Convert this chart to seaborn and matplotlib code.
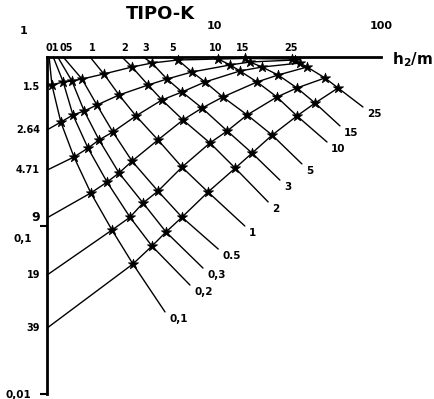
import matplotlib
matplotlib.use("Agg")
import matplotlib.pyplot as plt
import matplotlib.transforms as mtransforms
from matplotlib.ticker import FixedLocator, NullFormatter, NullLocator
import seaborn as sns
import pandas as pd

# curve families (log-log, h on top axis)
L_labels = ['1.5', '2.64', '4.71', '9', '19', '39']
L_start_v = [0.664, 0.369, 0.213, 0.111, 0.0508, 0.0246]

D_labels = ['0,1', '0,2', '0,3', '0.5', '1', '2', '3', '5', '10', '15', '25']
D_top_labels = ['01', '', '', '05', '1', '2', '3', '5', '10', '15', '25']
D_top_h = [1.03, 1.09, 1.16, 1.25, 1.81, 2.81, 3.76, 5.45, 9.86, 14.3, 27.7]
D_end_h = [5.09, 7.18, 8.59, 10.6, 15.3, 21.1, 24.8, 33.6, 47.5, 56.8, 78.0]
D_end_v = [0.0307, 0.0443, 0.0559, 0.0725, 0.0993, 0.138, 0.186, 0.232, 0.313, 0.390, 0.505]

# crossing points (rows = L curves, columns = D curves)
star_h = [
    [1.07, 1.25, 1.41, 1.62, 2.19, 3.23, 4.25, 6.09, 10.6, 15.3, 29.3],
    [1.21, 1.43, 1.67, 1.99, 2.70, 4.03, 5.23, 7.38, 12.5, 16.4, 30.5],
    [1.45, 1.76, 2.05, 2.48, 3.41, 4.88, 6.43, 8.84, 14.3, 19.4, 32.7],
    [1.83, 2.29, 2.70, 3.23, 4.62, 6.52, 8.48, 11.3, 18.1, 24.2, 36.1],
    [2.45, 3.14, 3.76, 4.62, 6.43, 9.46, 12.0, 15.8, 23.8, 31.4, 46.2],
    [3.27, 4.25, 5.16, 6.43, 9.21, 13.4, 16.9, 22.3, 31.4, 40.3, 55.3],
]
star_v = [
    [0.682, 0.711, 0.720, 0.740, 0.793, 0.872, 0.921, 0.960, 0.973, 0.980, 0.973],
    [0.411, 0.453, 0.478, 0.519, 0.595, 0.682, 0.740, 0.815, 0.897, 0.934, 0.960],
    [0.255, 0.288, 0.322, 0.359, 0.447, 0.556, 0.620, 0.711, 0.826, 0.872, 0.921],
    [0.156, 0.181, 0.205, 0.241, 0.322, 0.423, 0.498, 0.579, 0.711, 0.782, 0.872],
    [0.094, 0.112, 0.136, 0.160, 0.222, 0.309, 0.364, 0.453, 0.579, 0.655, 0.751],
    [0.0591, 0.0755, 0.0915, 0.112, 0.158, 0.219, 0.269, 0.344, 0.447, 0.533, 0.655],
]

# build long tables
rows = []
for i, lab in enumerate(L_labels):
    rows.append((1.0, L_start_v[i], 'L' + lab))
    for j in range(len(D_labels)):
        rows.append((star_h[i][j], star_v[i][j], 'L' + lab))
for j, lab in enumerate(D_labels):
    rows.append((D_top_h[j], 1.0, 'D' + lab))
    for i in range(len(L_labels)):
        rows.append((star_h[i][j], star_v[i][j], 'D' + lab))
    rows.append((D_end_h[j], D_end_v[j], 'D' + lab))
lines = pd.DataFrame(rows, columns=['h', 'v', 'curve'])

stars = pd.DataFrame({
    'h': [h for r in star_h for h in r],
    'v': [v for r in star_v for v in r],
})

sns.set_style("white")
plt.rcParams['font.family'] = ['DejaVu Sans']
plt.rcParams['font.weight'] = 'bold'
for key in ['text.color', 'xtick.color', 'ytick.color', 'axes.labelcolor']:
    plt.rcParams[key] = 'black'

fig = plt.figure(figsize=(4.34, 3.99), dpi=100)
ax = fig.add_axes([47 / 434, 1 - 394 / 399, 334 / 434, 337 / 399])
ax.set_xscale('log')
ax.set_yscale('log')

sns.lineplot(data=lines, x='h', y='v', units='curve', estimator=None, sort=False,
             color='black', lw=1.0, ax=ax, legend=False, clip_on=False)
sns.scatterplot(data=stars, x='h', y='v', marker='*', s=60, color='black',
                edgecolor='black', linewidth=0.5, ax=ax, zorder=3, clip_on=False)

ax.set_xlim(1, 100)
ax.set_ylim(0.01, 1)
ax.set_xlabel('')
ax.set_ylabel('')

for side in ['bottom', 'right']:
    ax.spines[side].set_visible(False)
for side in ['top', 'left']:
    ax.spines[side].set_linewidth(2.0)
    ax.spines[side].set_color('black')

# top axis: decades
ax.xaxis.tick_top()
ax.set_xticks([10, 100])
ax.set_xticklabels(['10', '100'])
ax.xaxis.set_minor_locator(FixedLocator([100]))
ax.xaxis.set_minor_formatter(NullFormatter())
ax.tick_params(axis='x', which='major', length=0, pad=19, labelsize=8,
               top=True, labeltop=True, bottom=False, labelbottom=False)
ax.tick_params(axis='x', which='minor', length=9, width=1.5, direction='inout',
               top=True, bottom=False, color='black')

# left axis
ax.set_yticks([0.1, 0.01])
ax.set_yticklabels(['0,1', '0,01'])
ax.yaxis.set_minor_locator(NullLocator())
ax.tick_params(axis='y', which='major', length=5, width=1.5, direction='out',
               left=True, pad=6, labelsize=7.5, color='black')
shift = mtransforms.ScaledTranslation(0, -0.13, fig.dpi_scale_trans)
lab01 = ax.get_yticklabels()[0]
lab01.set_transform(lab01.get_transform() + shift)

ax.annotate('1', xy=(1, 1), xytext=(-17, 19), textcoords='offset points',
            ha='center', va='center', fontsize=8)
ax.annotate(r'h$_2$/m', xy=(100, 1), xytext=(8, -2), textcoords='offset points',
            ha='left', va='center', fontsize=11, annotation_clip=False)

# curve labels
for i, lab in enumerate(L_labels):
    ax.annotate(lab, xy=(1, L_start_v[i]), xytext=(-5, 0), textcoords='offset points',
                ha='right', va='center', fontsize=9 if lab == '9' else 7)
for j, lab in enumerate(D_top_labels):
    if lab:
        ax.annotate(lab, xy=(D_top_h[j], 1), xytext=(2, 3), textcoords='offset points',
                    ha='center', va='bottom', fontsize=7, annotation_clip=False)
for j, lab in enumerate(D_labels):
    ax.annotate(lab, xy=(D_end_h[j], D_end_v[j]), xytext=(3, -1.5),
                textcoords='offset points', ha='left', va='top', fontsize=7.5)

fig.text(160 / 434, 1 - 14 / 399, 'TIPO-K', ha='center', va='center',
         fontsize=13, fontweight='heavy')

fig.savefig('out.png', dpi=100)
